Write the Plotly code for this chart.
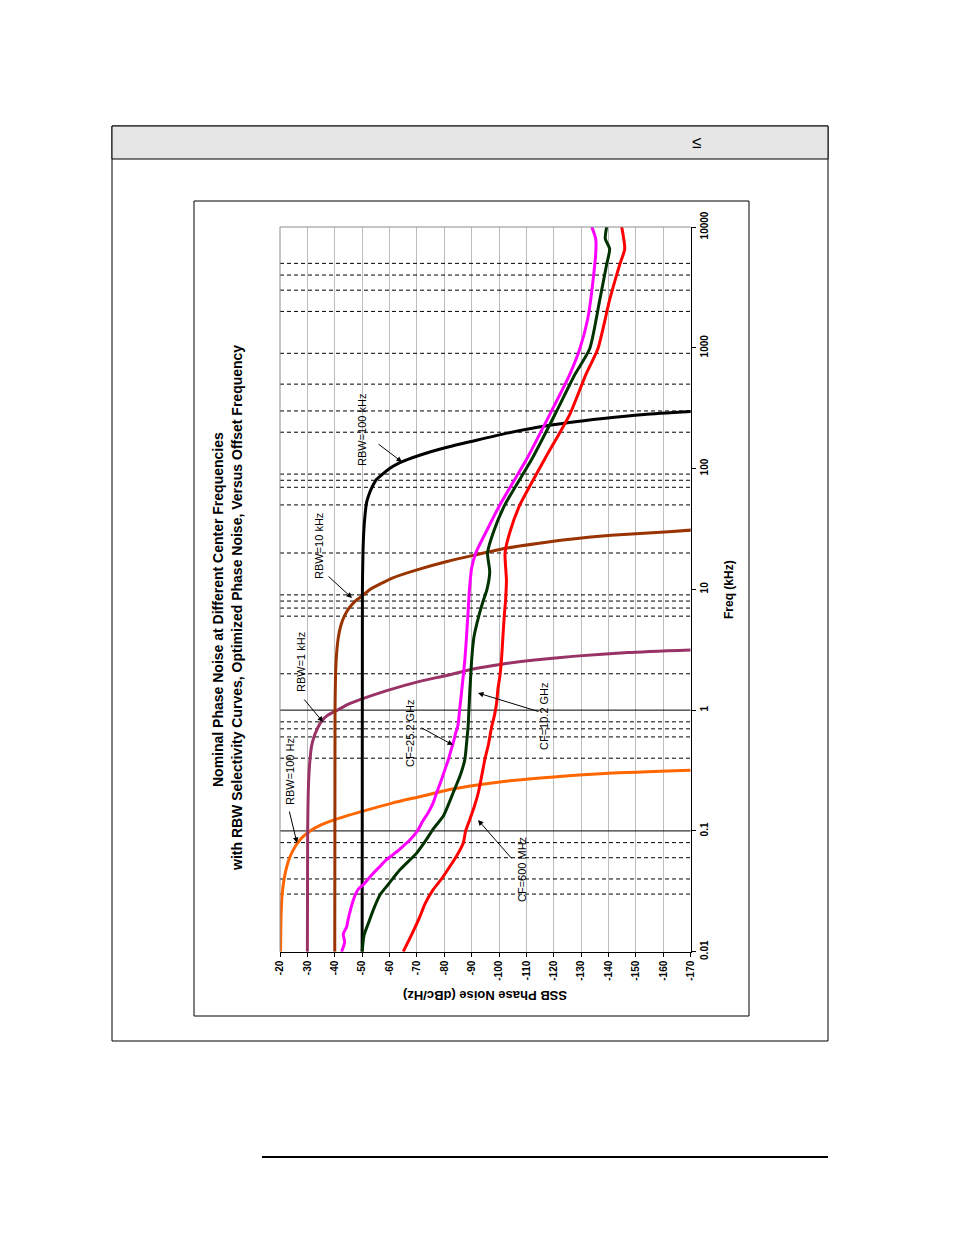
import plotly.graph_objects as go

W, H = 954, 1235
FONT = "Arial, Liberation Sans, sans-serif"

# ---------------- data ----------------
# RBW selectivity curves (offset freq kHz, level dBc/Hz)
rbw100hz_f = [0.01, 0.02, 0.03, 0.04, 0.05, 0.06, 0.07, 0.08, 0.09, 0.10, 0.112, 0.124, 0.145, 0.17, 0.192, 0.22, 0.24, 0.26, 0.28, 0.30, 0.318]
rbw100hz_db = [-20.2, -20.4, -20.8, -21.5, -22.4, -23.5, -24.9, -26.5, -28.5, -31, -35, -40, -50, -61, -71, -82, -92, -104, -120, -140, -170]

rbw1k_f = [0.01, 0.1, 0.2, 0.3, 0.4, 0.5, 0.6, 0.7, 0.8, 0.9, 0.95, 1.0, 1.12, 1.22, 1.45, 1.73, 1.92, 2.2, 2.4, 2.6, 2.8, 3.0, 3.15]
rbw1k_db = [-30.0, -30.1, -30.3, -30.6, -31.0, -31.5, -32.4, -33.6, -35.0, -37.2, -39.0, -41, -45, -49.2, -59, -71, -80, -91, -101, -113, -128, -147, -170]

rbw10k_f = [0.01, 1, 2, 3, 4, 5, 6, 7, 8, 8.8, 10, 11.2, 12.4, 14.5, 17, 19.2, 22, 24, 26, 28, 30, 31.5]
rbw10k_db = [-40, -40.1, -40.3, -40.7, -41.3, -42.2, -43.5, -45.2, -47.5, -50, -53, -57, -61, -70, -81, -91, -103, -114, -126, -141, -162, -175]

rbw100k_f = [0.01, 10, 20, 30, 40, 52, 60, 70, 81.5, 90, 100, 112, 129, 150, 170, 192, 220, 240, 260, 280, 298]
rbw100k_db = [-50, -50.1, -50.3, -50.6, -51.0, -51.6, -52.4, -53.6, -55.3, -57.5, -60, -63.8, -71, -81, -91, -101, -114, -125, -138, -153, -172]

# Phase noise curves
cf25_f = [0.010, 0.012, 0.014, 0.016, 0.019, 0.022, 0.026, 0.030, 0.033, 0.036, 0.042, 0.050, 0.058, 0.066, 0.075, 0.085, 0.10, 0.12, 0.14, 0.17, 0.21, 0.27, 0.33, 0.39, 0.46, 0.54, 0.65, 0.75, 1.0, 1.4, 2.0, 2.6, 4.0, 6.0, 10, 15, 20, 30, 50, 120, 280, 600, 980, 1740, 3400, 6600, 8000, 10000]
cf25_db = [-42.5, -43.6, -43.1, -44.3, -45.0, -45.7, -46.6, -47.6, -48.6, -50.5, -53.0, -56.2, -59.0, -62.2, -65.0, -67.6, -70.2, -72.1, -74.0, -75.9, -77.3, -79.1, -80.4, -81.5, -82.4, -83.3, -84.2, -85.0, -85.6, -86.3, -87.0, -87.5, -88.1, -88.6, -89.2, -90.0, -91.5, -95.3, -100.3, -110.1, -118.5, -125.8, -129.5, -132.4, -134.2, -135.4, -135.3, -133.9]

cf10_f = [0.010, 0.0137, 0.018, 0.022, 0.0295, 0.036, 0.0476, 0.0655, 0.085, 0.104, 0.132, 0.165, 0.206, 0.283, 0.389, 0.55, 0.73, 1.0, 1.39, 2.0, 2.62, 4.0, 6.0, 8.0, 10, 14, 20, 30, 50, 120, 280, 600, 980, 2500, 4900, 6600, 8000, 10000]
cf10_db = [-50.0, -50.7, -52.6, -54.0, -56.5, -59.5, -63.8, -69.9, -73.5, -76.0, -79.6, -81.5, -83.2, -85.7, -87.5, -88.2, -88.7, -89.0, -89.3, -89.7, -90.0, -90.8, -92.6, -94.2, -95.6, -96.6, -95.8, -98.0, -102.1, -112.0, -120.4, -127.7, -133.1, -136.8, -139.3, -140.4, -138.8, -139.3]

cf600m_f = [0.010, 0.013, 0.0195, 0.025, 0.0328, 0.040, 0.0506, 0.062, 0.079, 0.10, 0.124, 0.16, 0.206, 0.28, 0.389, 0.53, 0.73, 0.9, 1.14, 1.5, 1.91, 2.62, 4.0, 6.0, 8.2, 12, 20, 30, 50, 120, 280, 600, 980, 2500, 4900, 6600, 10000]
cf600m_db = [-65.0, -67.5, -71.1, -73.0, -76.0, -79.0, -82.0, -84.5, -86.9, -87.8, -89.3, -91.0, -92.4, -93.6, -94.8, -96.2, -97.3, -98.3, -99.1, -99.6, -100.3, -100.9, -101.4, -101.9, -102.4, -102.7, -102.2, -104.0, -107.6, -116.7, -125.8, -131.7, -136.1, -140.4, -144.1, -145.9, -144.8]

# grid / axis
db_ticks = [-20, -30, -40, -50, -60, -70, -80, -90, -100, -110, -120, -130, -140, -150, -160, -170]
db_labels = ["-20", "-30", "-40", "-50", "-60", "-70", "-80", "-90", "-100", "-110", "-120", "-130", "-140", "-150", "-160", "-170"]
freq_ticks = [0.01, 0.1, 1, 10, 100, 1000, 10000]
freq_labels = ["0.01", "0.1", "1", "10", "100", "1000", "10000"]
dashed_freqs = [0.03, 0.04, 0.06, 0.08, 0.4, 0.6, 0.7, 0.8, 2, 6, 7, 8, 9, 20, 50, 70, 80, 90, 200, 300, 500, 900, 2000, 3000, 4000, 5000]
solid_freqs = [0.1, 1]

# ---------------- helpers ----------------
def px(x):
    return x / W

def py(y):
    return 1 - y / H

fig = go.Figure()

# dashed horizontal lines
dx, dy = [], []
for f in dashed_freqs:
    dx += [db_ticks[0], db_ticks[-1], None]
    dy += [f, f, None]
fig.add_trace(go.Scatter(x=dx, y=dy, mode="lines", line=dict(color="black", width=1, dash="4px,3px"),
                         hoverinfo="skip", showlegend=False))
sx, sy = [], []
for f in solid_freqs:
    sx += [db_ticks[0], db_ticks[-1], None]
    sy += [f, f, None]
fig.add_trace(go.Scatter(x=sx, y=sy, mode="lines", line=dict(color="black", width=1),
                         hoverinfo="skip", showlegend=False))

def curve(f, d, color, width=3, shape="spline"):
    fig.add_trace(go.Scatter(x=d, y=f, mode="lines", line=dict(color=color, width=width, shape=shape, smoothing=0.6),
                             showlegend=False, cliponaxis=True))

curve(rbw100hz_f, rbw100hz_db, "#FF6600")
curve(rbw1k_f, rbw1k_db, "#993366")
curve(rbw10k_f, rbw10k_db, "#993300")
curve(rbw100k_f, rbw100k_db, "#000000")
curve(cf600m_f, cf600m_db, "#FF0000")
curve(cf10_f, cf10_db, "#003300")
curve(cf25_f, cf25_db, "#FF00FF")

# ---------------- layout ----------------
x0p, x1p = 280, 690.7
y0p, y1p = 227, 951.7

fig.update_layout(
    width=W, height=H, autosize=False,
    margin=dict(l=0, r=0, t=0, b=0, pad=0),
    paper_bgcolor="white", plot_bgcolor="white",
    font=dict(family=FONT, color="black"),
    xaxis=dict(domain=[px(x0p), px(x1p)], range=[-20, -170], tickmode="array",
               tickvals=db_ticks, ticktext=db_labels, tickangle=-90,
               ticks="outside", ticklen=4, tickcolor="black", automargin=False,
               showline=True, linecolor="black", linewidth=1,
               showgrid=True, gridcolor="#bdbdbd", gridwidth=1, zeroline=False,
               tickfont=dict(size=10, family=FONT, color="black", weight="bold"), anchor="y"),
    yaxis=dict(domain=[py(y1p), py(y0p)], type="log", range=[-2, 4], side="right",
               tickmode="array", tickvals=freq_ticks, ticktext=freq_labels, tickangle=-90,
               ticks="outside", ticklen=4, tickcolor="black", automargin=False,
               showline=True, linecolor="black", linewidth=1, showgrid=False, zeroline=False,
               tickfont=dict(size=10, family=FONT, color="black", weight="bold"), anchor="x"),
)

shapes = []
# plot-area left and top borders (gray)
shapes.append(dict(type="line", xref="x domain", yref="y domain", x0=0, x1=0, y0=0, y1=1,
                   line=dict(color="#8c8c8c", width=1)))
shapes.append(dict(type="line", xref="x domain", yref="y domain", x0=0, x1=1, y0=1, y1=1,
                   line=dict(color="#8c8c8c", width=1)))
# page frame
shapes.append(dict(type="rect", xref="paper", yref="paper", x0=px(112), x1=px(828), y0=py(1041), y1=py(126),
                   line=dict(color="black", width=1), layer="below"))
shapes.append(dict(type="rect", xref="paper", yref="paper", x0=px(112), x1=px(828), y0=py(159), y1=py(126),
                   line=dict(color="black", width=1), fillcolor="#e6e6e6", layer="below"))
shapes.append(dict(type="rect", xref="paper", yref="paper", x0=px(194), x1=px(749), y0=py(1016), y1=py(201),
                   line=dict(color="black", width=1), layer="below"))
shapes.append(dict(type="line", xref="paper", yref="paper", x0=px(262), x1=px(828), y0=py(1157), y1=py(1157),
                   line=dict(color="black", width=2)))
fig.update_layout(shapes=shapes)

ann = []
def text(x, y, s, size=11, angle=-90, bold=False):
    ann.append(dict(xref="paper", yref="paper", x=px(x), y=py(y), text=("<b>%s</b>" % s) if bold else s,
                    showarrow=False, textangle=angle, xanchor="center", yanchor="middle",
                    font=dict(family=FONT, size=size, color="black")))

def arrow(tx, ty, hx, hy):
    ann.append(dict(xref="paper", yref="paper", x=px(hx), y=py(hy), ax=tx - hx, ay=ty - hy,
                    text="", showarrow=True, arrowhead=2, arrowsize=1.1, arrowwidth=1,
                    arrowcolor="black", standoff=0, startstandoff=0))

text(218, 610, "Nominal Phase Noise at Different Center Frequencies", size=14, bold=True)
text(237, 608, "with RBW Selectivity Curves, Optimized Phase Noise, Versus Offset Frequency", size=14, bold=True)
text(729, 590, "Freq (kHz)", size=12, bold=True)
text(485, 996, "SSB Phase Noise (dBc/Hz)", size=13, angle=180, bold=True)
text(696, 142, "≤", size=17, angle=0)

text(290, 772, "RBW=100 Hz")
text(301, 662, "RBW=1 kHz")
text(319, 546, "RBW=10 kHz")
text(362, 430, "RBW=100 kHz")
text(410, 733, "CF=25.2 GHz")
text(544, 716, "CF=10.2 GHz")
text(522, 870, "CF=600 MHz")

arrow(289, 810, 297, 843)
arrow(303, 698, 323, 722)
arrow(327, 575, 352, 598)
arrow(377, 443, 402, 462)
arrow(420, 727, 453, 745)
arrow(540, 712, 478, 693)
arrow(513, 860, 478, 820)

fig.update_layout(annotations=ann)
fig.write_html("out.html")
